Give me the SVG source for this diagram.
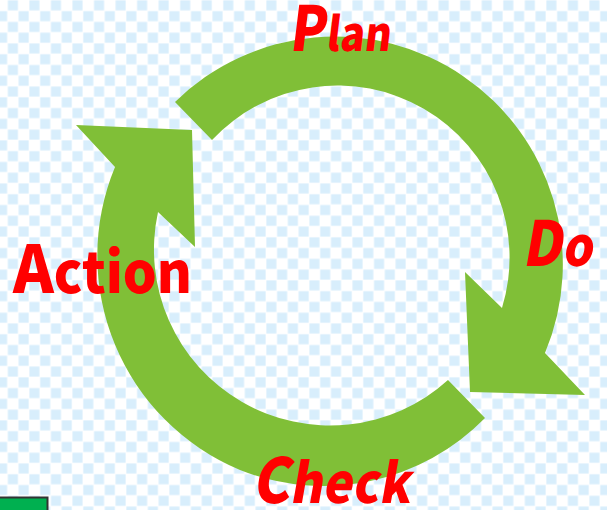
<svg xmlns="http://www.w3.org/2000/svg" width="607" height="510" viewBox="0 0 607 510">
  <defs>
    <pattern id="checker" patternUnits="userSpaceOnUse" x="7.5" y="0" width="21.54" height="21.54">
      <rect x="0" y="0" width="21.54" height="21.54" fill="#ffffff"/>
      <rect x="0.4" y="0.4" width="10" height="10" fill="#d8eefc"/>
      <rect x="11.17" y="11.17" width="10" height="10" fill="#d8eefc"/>
    </pattern>
    <style>
      .ring { fill: #80bf37; }
      .lbl { fill: #ff0000; font-family: "Noto Sans CJK JP", "DejaVu Sans", "Liberation Sans", sans-serif; font-weight: 900; }
    </style>
  </defs>

  <rect x="0" y="0" width="607" height="510" fill="url(#checker)"/>

  <g id="connectors">
    <path id="arc-plan-do" class="ring" d="M175,102 A228,228 0 0 1 545,353 L585,395 L470,392 L465,272 L502,308 A172,172 0 0 0 212,140 Z"/>
    <path id="arc-check-action" class="ring" d="M485,418 A226,226 0 0 1 240,470 A232,232 0 0 1 115,167 L76,125 L192,130 L195,247 L158,212 A176,176 0 0 0 448,380 Z"/>
  </g>

  <g id="node-plan">
    <text class="lbl" transform="translate(289,51) skewX(-7)" x="0" y="0" textLength="101" lengthAdjust="spacingAndGlyphs"><tspan font-size="62">P</tspan><tspan font-size="47">lan</tspan></text>
  </g>
  <g id="node-do">
    <text class="lbl" transform="translate(522,266) skewX(-10)" x="0" y="0" textLength="70" lengthAdjust="spacingAndGlyphs"><tspan font-size="62">D</tspan><tspan font-size="54">o</tspan></text>
  </g>
  <g id="node-check">
    <text class="lbl" transform="translate(252,503) skewX(-10)" x="0" y="0" textLength="158" lengthAdjust="spacingAndGlyphs"><tspan font-size="62">C</tspan><tspan font-size="55">heck</tspan></text>
  </g>
  <g id="node-action">
    <text class="lbl" x="13" y="293" textLength="179" lengthAdjust="spacingAndGlyphs"><tspan font-size="66">A</tspan><tspan font-size="57">ction</tspan></text>
  </g>

  <g id="corner-box">
    <rect x="-5" y="497.5" width="52.5" height="20" fill="#00b050" stroke="#333333" stroke-width="2"/>
  </g>
</svg>
